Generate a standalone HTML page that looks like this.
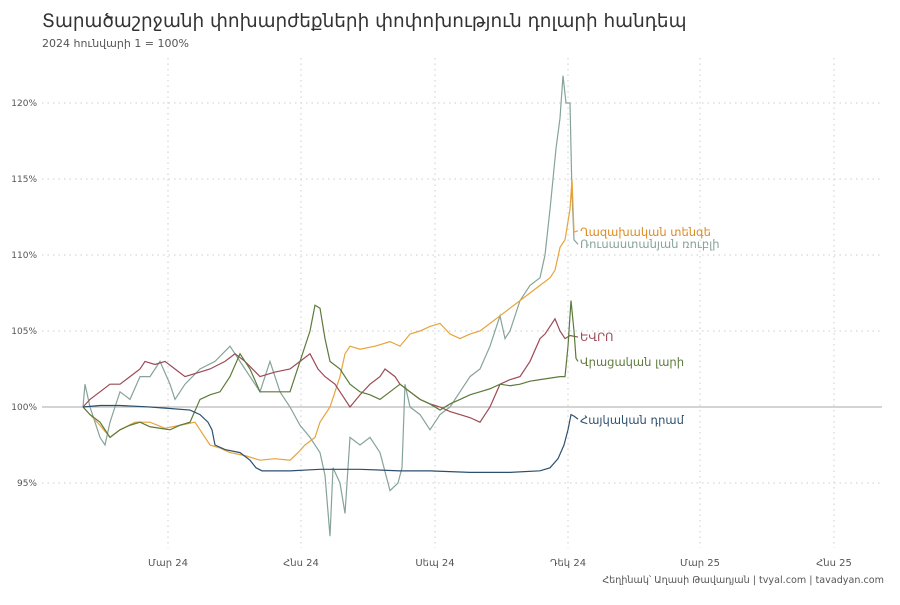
<!DOCTYPE html>
<html><head><meta charset="utf-8"><style>
body{margin:0;background:#fff;width:900px;height:600px;overflow:hidden;font-family:"Liberation Sans","DejaVu Sans",sans-serif}
</style></head><body>
<svg width="900" height="600" xmlns="http://www.w3.org/2000/svg" font-family="DejaVu Sans, Liberation Sans, sans-serif">
<text x="42" y="27" font-size="18.4" fill="#333">Տարածաշրջանի փոխարժեքների փոփոխություն դոլարի հանդեպ</text>
<text x="42" y="47" font-size="11" fill="#555">2024 հունվարի 1 = 100%</text>
<g stroke="#ccc" stroke-width="1" stroke-dasharray="1.5,4">
<line x1="42" x2="882" y1="103" y2="103"/><line x1="42" x2="882" y1="179" y2="179"/><line x1="42" x2="882" y1="255" y2="255"/><line x1="42" x2="882" y1="331" y2="331"/><line x1="42" x2="882" y1="483" y2="483"/>
<line x1="168" x2="168" y1="58" y2="548"/><line x1="301" x2="301" y1="58" y2="548"/><line x1="435" x2="435" y1="58" y2="548"/><line x1="568" x2="568" y1="58" y2="548"/><line x1="700" x2="700" y1="58" y2="548"/><line x1="834" x2="834" y1="58" y2="548"/>
</g>
<line x1="42" x2="882" y1="407" y2="407" stroke="#aaa" stroke-width="1"/>
<g font-size="9" fill="#555" text-anchor="end">
<text x="37" y="106">120%</text><text x="37" y="182">115%</text><text x="37" y="258">110%</text><text x="37" y="334">105%</text><text x="37" y="410">100%</text><text x="37" y="486">95%</text>
</g>
<g font-size="10" fill="#555" text-anchor="middle">
<text x="168" y="566">Մար 24</text><text x="301" y="566">Հնս 24</text><text x="435" y="566">Սեպ 24</text><text x="568" y="566">Դեկ 24</text><text x="700" y="566">Մար 25</text><text x="834" y="566">Հնս 25</text>
</g>
<text x="884" y="583" font-size="9.6" fill="#555" text-anchor="end">Հեղինակ՝ Աղասի Թավադյան  |  tvyal.com  |  tavadyan.com</text>
<g transform="matrix(1 0 0 -15.2 0 1927)" fill="none" stroke-width="1.2">
<polyline vector-effect="non-scaling-stroke" stroke="#86a39b" points="83,100 85,101.5 90,100 95,99 100,98 105,97.5 110,99 120,101 130,100.5 140,102 150,102 160,103 170,101.5 175,100.5 185,101.5 200,102.5 215,103 230,104 245,102.5 260,101 270,103 280,101 290,100 300,98.8 310,98 320,97 325,95.5 330,91.5 333,96 340,95 345,93 350,98 360,97.5 370,98 380,97 390,94.5 398,95 402,96 405,101.5 410,100 420,99.5 430,98.5 440,99.5 450,100 460,101 470,102 480,102.5 490,104 500,106 505,104.5 510,105 520,107 530,108 540,108.5 545,110 550,113 556,117 560,119 563,121.8 566,120 570,120 572,114 574,111 578,110.7"/>
<polyline vector-effect="non-scaling-stroke" stroke="#e8a33a" points="83,100 90,99.5 100,98.8 110,98 120,98.5 135,99 150,99 165,98.6 180,98.8 195,99 200,98.5 210,97.5 220,97.3 230,97 245,96.8 260,96.5 275,96.6 290,96.5 298,97 305,97.5 315,98 320,99 330,100 340,102 345,103.5 350,104 360,103.8 375,104 390,104.3 400,104 410,104.8 420,105 430,105.3 440,105.5 450,104.8 460,104.5 470,104.8 480,105 490,105.5 500,106 510,106.5 520,107 530,107.5 540,108 550,108.5 555,109 560,110.5 565,111 570,113 572,115 574,111.5 578,111.6"/>
<polyline vector-effect="non-scaling-stroke" stroke="#9c4a55" points="83,100 90,100.5 100,101 110,101.5 120,101.5 130,102 140,102.5 145,103 155,102.8 165,103 175,102.5 185,102 200,102.3 210,102.5 225,103 235,103.5 245,103 260,102 275,102.3 290,102.5 300,103 310,103.5 318,102.5 325,102 335,101.5 340,101 350,100 360,100.8 370,101.5 380,102 385,102.5 395,102 400,101.5 410,101 420,100.5 430,100.2 440,100 450,99.7 460,99.5 470,99.3 480,99 485,99.5 490,100 500,101.5 510,101.8 520,102 530,103 540,104.5 545,104.8 550,105.3 555,105.8 560,105 565,104.5 570,104.7 578,104.6"/>
<polyline vector-effect="non-scaling-stroke" stroke="#5c7a3a" points="83,100 90,99.5 100,99 110,98 120,98.5 130,98.8 140,99 150,98.7 160,98.6 170,98.5 180,98.8 190,99 200,100.5 210,100.8 220,101 230,102 240,103.5 250,102.5 260,101 275,101 290,101 300,103 310,105 315,106.7 320,106.5 325,104.5 330,103 340,102.5 350,101.5 360,101 370,100.8 380,100.5 390,101 400,101.5 410,101 420,100.5 430,100.2 440,99.8 450,100.2 460,100.5 470,100.8 480,101 490,101.2 500,101.5 510,101.4 520,101.5 530,101.7 540,101.8 550,101.9 560,102 565,102 568,104 571,107 574,105 576,103.2 578,103"/>
<polyline vector-effect="non-scaling-stroke" stroke="#2d4f6e" points="83,100 100,100.1 120,100.1 150,100 170,99.9 190,99.8 200,99.5 208,99 212,98.5 215,97.5 225,97.2 240,97 250,96.5 256,96 262,95.8 290,95.8 320,95.9 360,95.9 400,95.8 430,95.8 470,95.7 510,95.7 540,95.8 550,96 558,96.6 564,97.5 568,98.5 571,99.5 574,99.4 578,99.2"/>
</g>
<g font-size="11.5">
<text x="580" y="236" fill="#e08a1e">Ղազախական տենգե</text>
<text x="580" y="248" fill="#86a39b">Ռուսաստանյան ռուբլի</text>
<text x="580" y="341" fill="#9c4a55">ԵՎՐՈ</text>
<text x="580" y="366" fill="#5c7a3a">Վրացական լարի</text>
<text x="580" y="424" fill="#2d4f6e">Հայկական դրամ</text>
</g>
</svg>
</body></html>
